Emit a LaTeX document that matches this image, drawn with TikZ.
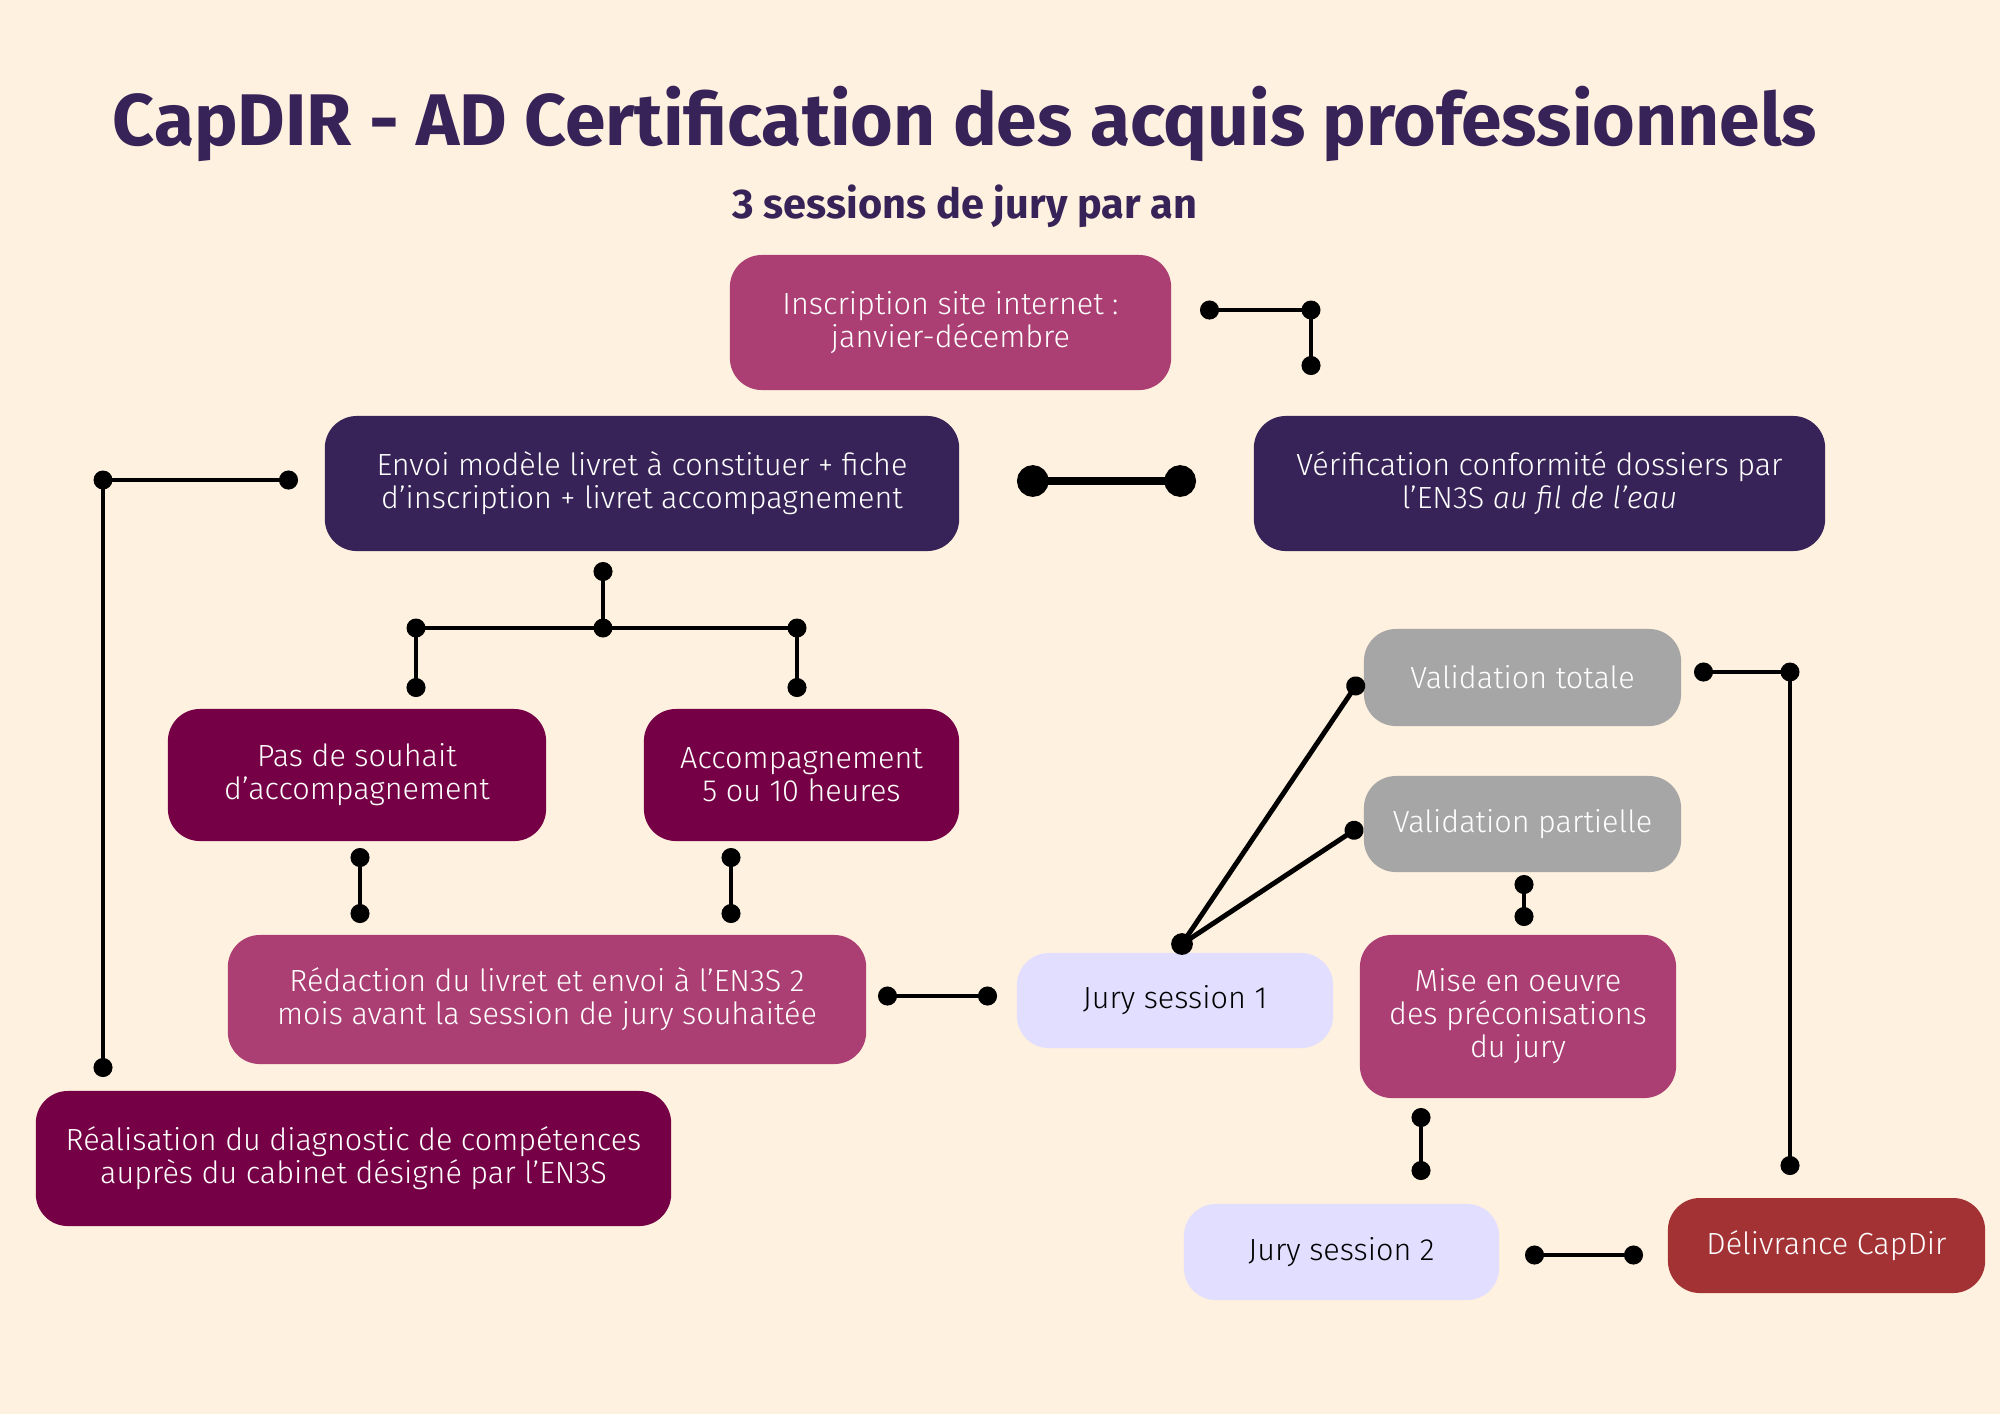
\documentclass[tikz,border=0pt]{standalone}
\usepackage{fontspec}
\setmainfont{Fira Sans}
\newfontfamily\boxfont{Fira Sans Light}
\usetikzlibrary{arrows.meta}
\definecolor{cdbg}{RGB}{254,241,223}
\definecolor{cdpurple}{RGB}{55,35,88}
\definecolor{cdrose}{RGB}{171,63,116}
\definecolor{cdwine}{RGB}{117,0,70}
\definecolor{cdgrey}{RGB}{166,166,166}
\definecolor{cdlav}{RGB}{226,222,255}
\definecolor{cdred}{RGB}{163,50,53}
\tikzset{
  stepbox/.style={rounded corners=3.2mm,align=center,inner sep=0pt,text=white,
    font=\boxfont\fontsize{8.7}{9.4}\selectfont},
  purplebox/.style={stepbox,fill=cdpurple},
  rosebox/.style={stepbox,fill=cdrose},
  winebox/.style={stepbox,fill=cdwine},
  greybox/.style={stepbox,fill=cdgrey},
  jurybox/.style={stepbox,fill=cdlav,text=black},
  redbox/.style={stepbox,fill=cdred},
  boxsize/.style 2 args={minimum width=#1,minimum height=#2},
  dotlink/.style={line width=1.4pt,{Circle[length=5.4pt]}-{Circle[length=5.4pt]}},
  halflink/.style={line width=1.4pt,-{Circle[length=5.4pt]}},
  bigdotlink/.style={line width=2.4pt,{Circle[length=9pt]}-{Circle[length=9pt]}},
  junction/.style={circle,fill=black,inner sep=0pt,minimum size=5.4pt},
  maintitle/.style={font=\bfseries\fontsize{20.8}{24}\selectfont,text=cdpurple},
  subtitle/.style={font=\bfseries\fontsize{11.8}{14}\selectfont,text=cdpurple}
}

\begin{document}
\begin{tikzpicture}[x=0.01cm,y=-0.01cm]
  \fill[cdbg] (0,0) rectangle (2000,1414);
  \useasboundingbox (0,0) rectangle (2000,1414);
  \node[maintitle] (title) at (965,124) {CapDIR - AD Certification des acquis professionnels};
  \node[subtitle] (sub) at (965,206) {3 sessions de jury par an};

  \node[rosebox,boxsize={4.41cm}{1.35cm}] (insc) at (950.5,322.5) {Inscription site internet :\\janvier-décembre};
  \node[purplebox,boxsize={6.34cm}{1.35cm}] (envoi) at (642,483.5) {Envoi modèle livret à constituer + fiche\\d’inscription + livret accompagnement};
  \node[purplebox,boxsize={5.71cm}{1.35cm}] (verif) at (1539.5,483.5) {Vérification conformité dossiers par\\l’EN3S \textit{au fil de l’eau}};
  \node[winebox,boxsize={3.78cm}{1.32cm}] (pas) at (357,775) {Pas de souhait\\d’accompagnement};
  \node[winebox,boxsize={3.15cm}{1.32cm}] (accomp) at (801.5,775) {Accompagnement\\5 ou 10 heures};
  \node[rosebox,boxsize={6.38cm}{1.29cm}] (redac) at (547,999.5) {Rédaction du livret et envoi à l’EN3S 2\\mois avant la session de jury souhaitée};
  \node[winebox,boxsize={6.35cm}{1.35cm}] (diag) at (353.5,1158.5) {Réalisation du diagnostic de compétences\\auprès du cabinet désigné par l’EN3S};
  \node[jurybox,boxsize={3.16cm}{0.95cm}] (jury1) at (1175,1000.5) {Jury session 1};
  \node[greybox,boxsize={3.17cm}{0.97cm}] (valtot) at (1522.5,677.5) {Validation totale};
  \node[greybox,boxsize={3.17cm}{0.96cm}] (valpart) at (1522.5,824) {Validation partielle};
  \node[rosebox,boxsize={3.16cm}{1.63cm}] (mise) at (1518,1016.5) {Mise en oeuvre\\des préconisations\\du jury};
  \node[jurybox,boxsize={3.15cm}{0.96cm}] (jury2) at (1341.5,1252) {Jury session 2};
  \node[redbox,boxsize={3.17cm}{0.95cm}] (deliv) at (1826.5,1245.5) {Délivrance CapDir};

  % connecteurs
  \coordinate (inscA) at (1200,310); \coordinate (inscB) at (1311,310); \coordinate (inscC) at (1311,375);
  \draw[dotlink] (inscA) -- (inscB) -- (inscC);
  \node[junction] (inscJ) at (inscB) {};
  \coordinate (envA) at (1017,481); \coordinate (envB) at (1196,481);
  \draw[bigdotlink] (envA) -- (envB);
  \coordinate (diagA) at (298,480); \coordinate (diagB) at (103,480); \coordinate (diagC) at (103,1077);
  \draw[dotlink] (diagA) -- (diagB) -- (diagC);
  \node[junction] (diagJ) at (diagB) {};
  \coordinate (brTop) at (603,562); \coordinate (brMid) at (603,628);
  \coordinate (brL) at (416,628); \coordinate (brR) at (797,628);
  \coordinate (brLd) at (416,697); \coordinate (brRd) at (797,697);
  \draw[dotlink] (brLd) -- (brL) -- (brR) -- (brRd);
  \draw[halflink] (brMid) -- (brTop);
  \foreach \c in {brL,brMid,brR} \node[junction] at (\c) {};
  \coordinate (pasA) at (360,848); \coordinate (pasB) at (360,923);
  \draw[dotlink] (pasA) -- (pasB);
  \coordinate (accA) at (731,848); \coordinate (accB) at (731,923);
  \draw[dotlink] (accA) -- (accB);
  \coordinate (redA) at (878,996); \coordinate (redB) at (997,996);
  \draw[dotlink] (redA) -- (redB);
  \coordinate (juryA) at (1182,944); \coordinate (juryT) at (1361,678); \coordinate (juryP) at (1362,825);
  \draw[halflink] (juryA) -- (juryT);
  \draw[halflink] (juryA) -- (juryP);
  \node[junction,minimum size=6.2pt] (juryJ) at (juryA) {};
  \coordinate (vpA) at (1524,875); \coordinate (vpB) at (1524,926);
  \draw[dotlink] (vpA) -- (vpB);
  \coordinate (miseA) at (1421,1108); \coordinate (miseB) at (1421,1180);
  \draw[dotlink] (miseA) -- (miseB);
  \coordinate (j2A) at (1525,1255); \coordinate (j2B) at (1643,1255);
  \draw[dotlink] (j2A) -- (j2B);
  \coordinate (vtA) at (1694,672); \coordinate (vtB) at (1790,672); \coordinate (vtC) at (1790,1175);
  \draw[dotlink] (vtA) -- (vtB) -- (vtC);
  \node[junction] (vtJ) at (vtB) {};
\end{tikzpicture}
\end{document}
